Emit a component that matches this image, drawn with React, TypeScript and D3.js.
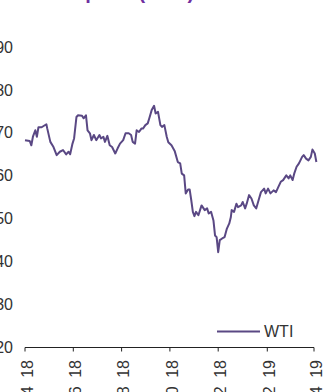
import React from "react";
import * as d3 from "d3";

// WTI price (USD): days since 2018-04-01 and price
const dayOffsets = [
  0, 6, 8, 10, 13, 15, 17, 21, 27, 28,
  32, 36, 40, 44, 48, 52, 55, 57, 60, 62,
  65, 67, 72, 74, 77, 79, 82, 84, 87, 90,
  94, 96, 99, 101, 104, 107, 110, 114, 117, 120,
  124, 127, 131, 134, 136, 139, 141, 144, 147, 149,
  152, 155, 157, 160, 163, 165, 168, 171, 173, 176,
  179, 181, 185, 189, 193, 196, 198, 201, 203, 206,
  208, 210, 212, 214, 216, 219, 223, 227, 230, 232,
  235, 238, 240, 242, 244, 246, 249, 252, 255, 258,
  260, 261, 264, 267, 269, 273, 275, 278, 280, 283,
  286, 289, 292, 295, 298, 302, 304, 307, 310, 314,
  317, 320, 323, 326, 330, 333, 335, 338, 340, 343,
  346, 350, 352, 355, 358, 361, 363, 366, 368,
];
const wtiPrices = [
  68.3, 68.1, 67.1, 69.1, 70.6, 69.1, 71.3, 71.3, 72.0, 71.1,
  67.9, 66.7, 64.8, 65.6, 66.0, 65.0, 65.6, 65.0, 67.5, 68.7,
  73.7, 74.1, 74.0, 73.4, 74.1, 70.6, 69.9, 68.3, 69.5, 68.3,
  69.5, 68.7, 69.1, 67.9, 69.3, 67.1, 66.7, 65.2, 66.4, 67.5,
  68.3, 69.9, 69.9, 69.5, 67.9, 67.5, 70.6, 70.2, 71.0, 71.0,
  71.8, 72.2, 73.4, 75.3, 76.3, 74.5, 74.9, 71.8, 71.4, 71.8,
  69.1, 67.8, 67.1, 65.8, 63.2, 62.9, 60.5, 60.1, 55.9, 56.8,
  56.8, 54.3, 51.6, 50.6, 51.6, 50.8, 53.1, 52.0, 52.4, 51.2,
  51.6, 49.6, 46.1, 45.7, 42.2, 45.0, 45.4, 45.7, 47.7, 48.9,
  50.4, 52.0, 51.6, 53.5, 52.7, 53.1, 53.9, 52.4, 53.5, 55.5,
  54.7, 53.1, 52.4, 54.3, 56.2, 57.0, 55.9, 57.0, 55.9, 56.6,
  56.2, 57.4, 58.6, 59.0, 60.1, 59.4, 60.1, 59.0, 60.5, 62.1,
  62.9, 64.4, 64.8, 64.0, 63.6, 64.4, 66.1, 65.2, 63.2,
];

const tickDates = ["2018-04-01", "2018-06-01", "2018-08-01", "2018-10-01", "2018-12-01", "2019-02-01", "2019-04-01"];
const tickLabels = ["04 18", "06 18", "08 18", "10 18", "12 18", "02 19", "04 19"];
const yTicks = [20, 30, 40, 50, 60, 70, 80, 90];
const seriesName = "WTI";
const titleText = "Oil price (USD)";

const parseDate = d3.timeParse("%Y-%m-%d");
const start = parseDate("2018-04-01") as Date;

export default function App() {
  const W = 329;
  const H = 392;
  const x = d3
    .scaleTime()
    .domain([parseDate(tickDates[0]) as Date, parseDate(tickDates[tickDates.length - 1]) as Date])
    .range([25, 314]);
  const y = d3.scaleLinear().domain([20, 90]).range([347.5, 47]);

  const n = Math.min(dayOffsets.length, wtiPrices.length);
  const data = d3.range(n).map((i) => ({
    date: d3.timeDay.offset(start, dayOffsets[i]),
    value: wtiPrices[i],
  }));

  const line = d3
    .line<{ date: Date; value: number }>()
    .x((d) => x(d.date))
    .y((d) => y(d.value));

  const lineColor = "#5a4884";
  const textColor = "#333333";
  const font = "'Liberation Sans', Arial, sans-serif";
  const axisY = y(20);

  return (
    <svg
      width={W}
      height={H}
      style={{ position: "absolute", left: 0, top: 0, background: "#fff" }}
      fontFamily={font}
    >
      <text x={53} y={-1.5} fontSize={20} fontWeight="bold" fill="#7030a0">
        {titleText}
      </text>

      {yTicks.map((t) => (
        <text key={t} x={13} y={y(t)} dy="0.35em" textAnchor="end" fontSize={16} fill={textColor}>
          {t}
        </text>
      ))}

      <line x1={x(parseDate(tickDates[0]) as Date)} x2={x(parseDate(tickDates[tickDates.length - 1]) as Date)} y1={axisY} y2={axisY} stroke="#222" strokeWidth={1} />
      {tickDates.map((td, i) => {
        const tx = x(parseDate(td) as Date);
        return (
          <g key={td}>
            <line x1={tx} x2={tx} y1={axisY} y2={axisY + 4} stroke="#222" strokeWidth={1} />
            <text
              transform={`translate(${tx + 2},${axisY + 12.5}) rotate(-90)`}
              dy="0.35em"
              textAnchor="end"
              fontSize={16}
              wordSpacing={4}
              fill={textColor}
            >
              {tickLabels[i]}
            </text>
          </g>
        );
      })}

      <path d={line(data) || ""} fill="none" stroke={lineColor} strokeWidth={2} strokeLinejoin="round" />

      <line x1={217} x2={260} y1={331.5} y2={331.5} stroke={lineColor} strokeWidth={2} />
      <text x={264} y={331.5} dy="0.35em" fontSize={16} fill={textColor}>
        {seriesName}
      </text>
    </svg>
  );
}
